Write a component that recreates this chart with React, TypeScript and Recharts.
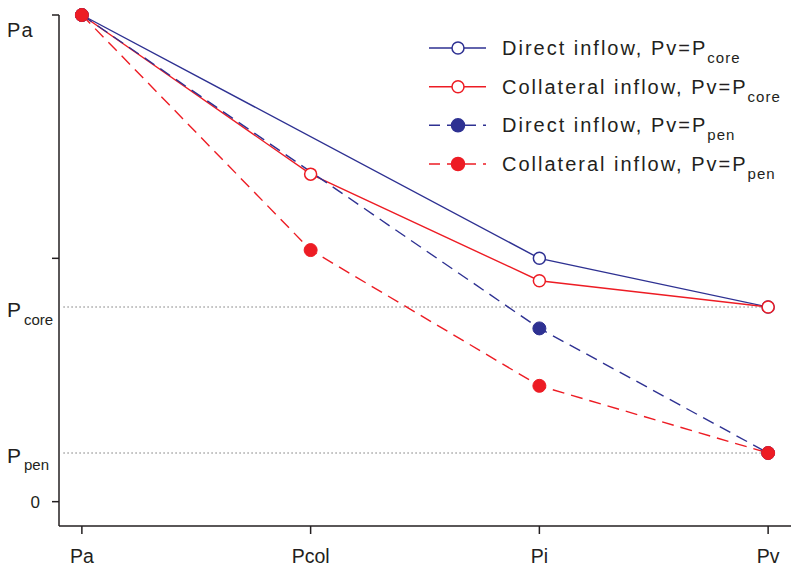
import React from "react";
import { LineChart, Line, XAxis, YAxis, ReferenceLine } from "recharts";

// x categories
const categories = ["Pa", "Pcol", "Pi", "Pv"];

// pressure profiles (Pa = 100, 0 = zero pressure)
const directCore = [100, null, 50, 40];
const collateralCore = [100, 67.3, 45.4, 40];
const directPen = [100, null, 35.6, 10];
const collateralPen = [100, 51.7, 23.8, 10];

const pCore = 40;
const pPen = 10;
const yTicks = [0, pPen, pCore, 50, 100];

const BLUE = "#2e3192";
const RED = "#ed1c24";
const INK = "#231f20";
const FONT = "'Liberation Sans', Arial, Helvetica, sans-serif";
const DASH = "12 7";

const data = categories.map((name, i) => ({
  x: i,
  name,
  directCore: directCore[i],
  collateralCore: collateralCore[i],
  directPen: directPen[i],
  collateralPen: collateralPen[i],
}));

const legendItems = [
  { label: "Direct inflow, Pv=P", sub: "core", color: BLUE, dashed: false, filled: false },
  { label: "Collateral inflow, Pv=P", sub: "core", color: RED, dashed: false, filled: false },
  { label: "Direct inflow, Pv=P", sub: "pen", color: BLUE, dashed: true, filled: true },
  { label: "Collateral inflow, Pv=P", sub: "pen", color: RED, dashed: true, filled: true },
];

function XTick(props: any) {
  const { x, y, payload } = props;
  return (
    <text x={x} y={y + 27} textAnchor="middle" fontSize={19.5} fontFamily={FONT} fill={INK}>
      {categories[payload.value]}
    </text>
  );
}

function YTick(props: any) {
  const { x, y, payload } = props;
  const v = payload.value;
  const showTick = v === 0 || v === 50 || v === 100;
  return (
    <g fontFamily={FONT} fill={INK}>
      {showTick && <line x1={x} x2={x + 7} y1={y} y2={y} stroke={INK} strokeWidth={1.5} />}
      {v === 100 && (
        <text x={x - 45} y={y + 22} fontSize={20} letterSpacing={1.2}>Pa</text>
      )}
      {v === 0 && (
        <text x={x - 12} y={y + 6} fontSize={17} textAnchor="end">0</text>
      )}
      {(v === pCore || v === pPen) && (
        <text x={x - 45} y={y + 10} fontSize={21}>
          P
          <tspan fontSize={15} dx={3} dy={v === pCore ? 8 : 7}>{v === pCore ? "core" : "pen"}</tspan>
        </text>
      )}
    </g>
  );
}

function LegendOverlay() {
  const rowY = [48, 86.7, 125.3, 164];
  return (
    <svg width={800} height={571} style={{ position: "absolute", left: 0, top: 0, pointerEvents: "none" }}>
      {legendItems.map((it, i) => (
        <g key={i}>
          <line
            x1={429}
            x2={486}
            y1={rowY[i]}
            y2={rowY[i]}
            stroke={it.color}
            strokeWidth={1.4}
            strokeDasharray={it.dashed ? "11 7" : undefined}
          />
          <circle
            cx={458}
            cy={rowY[i]}
            r={it.filled ? 6.5 : 6}
            fill={it.filled ? it.color : "#fff"}
            stroke={it.color}
            strokeWidth={1.5}
          />
          <text x={502} y={rowY[i] + 7} fontSize={20} fontFamily={FONT} fill={INK} letterSpacing={2}>
            {it.label}
            <tspan fontSize={15} dy={8} letterSpacing={1}>{it.sub}</tspan>
          </text>
        </g>
      ))}
    </svg>
  );
}

export default function App() {
  return (
    <div style={{ position: "absolute", left: 0, top: 0, width: 800, height: 571, background: "#fff" }}>
      <LineChart width={800} height={571} data={data} margin={{ top: 15, right: 9, bottom: 0, left: 0 }}>
        <XAxis
          type="number"
          dataKey="x"
          domain={[-0.1, 3.1]}
          ticks={[0, 1, 2, 3]}
          height={45}
          tickSize={8}
          tickMargin={2}
          tick={<XTick />}
          axisLine={{ stroke: INK, strokeWidth: 1.5 }}
          tickLine={{ stroke: INK, strokeWidth: 1.5 }}
        />
        <YAxis
          type="number"
          domain={[-5, 100]}
          ticks={yTicks}
          width={59}
          tickSize={7}
          tickMargin={0}
          tickLine={false}
          tick={<YTick />}
          axisLine={{ stroke: INK, strokeWidth: 1.5 }}
          interval={0}
        />
        <ReferenceLine
          segment={[{ x: -0.08, y: pCore }, { x: 3, y: pCore }]}
          stroke="#333"
          strokeDasharray="1 3"
        />
        <ReferenceLine
          segment={[{ x: -0.08, y: pPen }, { x: 3, y: pPen }]}
          stroke="#333"
          strokeDasharray="1 3"
        />
        <Line
          dataKey="directCore"
          stroke={BLUE}
          strokeWidth={1.4}
          connectNulls
          dot={{ r: 6, fill: "#fff", stroke: BLUE, strokeWidth: 1.5 }}
          isAnimationActive={false}
        />
        <Line
          dataKey="collateralCore"
          stroke={RED}
          strokeWidth={1.4}
          connectNulls
          dot={{ r: 6, fill: "#fff", stroke: RED, strokeWidth: 1.5 }}
          isAnimationActive={false}
        />
        <Line
          dataKey="directPen"
          stroke={BLUE}
          strokeWidth={1.4}
          strokeDasharray={DASH}
          connectNulls
          dot={{ r: 6.5, fill: BLUE, stroke: BLUE, strokeWidth: 1, strokeDasharray: "" }}
          isAnimationActive={false}
        />
        <Line
          dataKey="collateralPen"
          stroke={RED}
          strokeWidth={1.4}
          strokeDasharray={DASH}
          connectNulls
          dot={{ r: 6.5, fill: RED, stroke: RED, strokeWidth: 1, strokeDasharray: "" }}
          isAnimationActive={false}
        />
      </LineChart>
      <LegendOverlay />
    </div>
  );
}
